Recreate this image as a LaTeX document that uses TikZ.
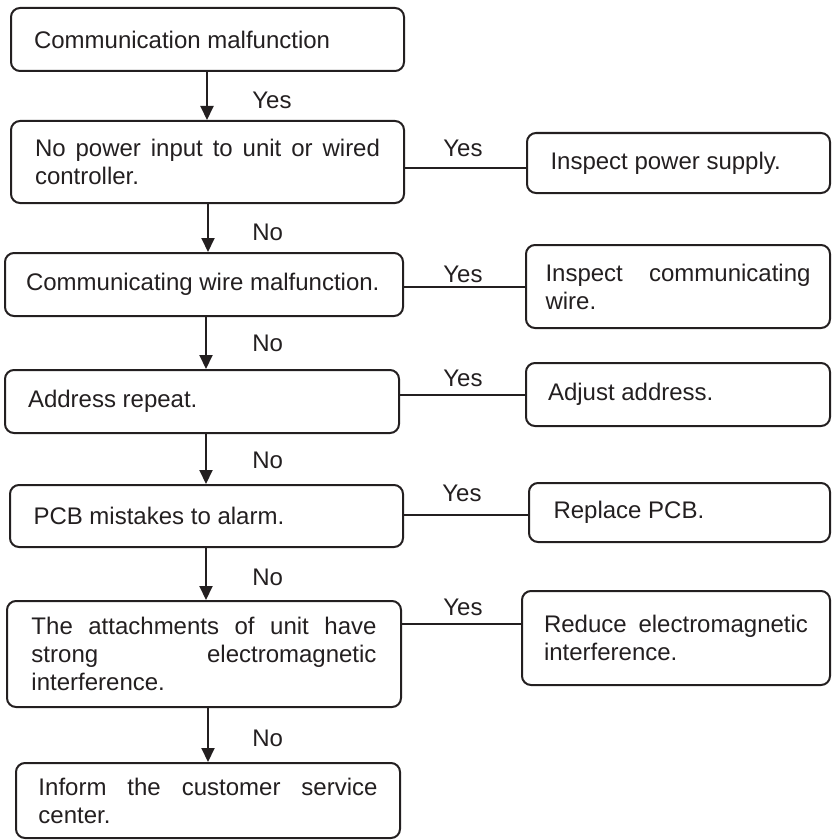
\documentclass[tikz,border=0pt]{standalone}
\usepackage{fontspec}
\setmainfont{Liberation Sans}
\usetikzlibrary{arrows.meta}
\definecolor{ink}{HTML}{231F20}
\begin{document}
\begin{tikzpicture}[x=0.5pt,y=-0.5pt,
  box/.style={draw=ink, text=ink, line width=1pt, rounded corners=4.5pt, inner xsep=0pt, inner ysep=0pt, align=justify, font=\fontsize{12}{14}\selectfont},
  lbl/.style={text=ink, font=\fontsize{12}{14}\selectfont, inner sep=0pt, anchor=west},
  link/.style={draw=ink, line width=1pt},
  flow/.style={link, -{Triangle[length=7pt,width=6.5pt]}}]
\useasboundingbox (0,0) rectangle (832,840);
% main column
\node[box, minimum width=196.5pt, minimum height=31.5pt, text width=173.5pt] (b1) at (207.5,39.5) {Communication malfunction};
\node[box, minimum width=196.5pt, minimum height=41pt, text width=172.5pt] (b2) at (207.5,162) {No power input to unit or wired\linebreak controller.};
\node[box, minimum width=199pt, minimum height=31.5pt, text width=178pt] (b3) at (204,284.5) {Communicating wire malfunction.};
\node[box, minimum width=197pt, minimum height=31.5pt, text width=174pt] (b4) at (202,401.5) {Address repeat.};
\node[box, minimum width=196.5pt, minimum height=31pt, text width=173pt] (b5) at (206.5,516) {PCB mistakes to alarm.};
\node[box, minimum width=197pt, minimum height=53pt, text width=172.5pt] (b6) at (204,654) {The attachments of unit have\linebreak strong electromagnetic\linebreak interference.};
\node[box, minimum width=192pt, minimum height=37.5pt, text width=169.5pt] (b7) at (208,800.5) {Inform the customer service\linebreak center.};
% side column
\node[box, minimum width=151.5pt, minimum height=30pt, text width=128pt] (s1) at (678.5,163) {Inspect power supply.};
\node[box, minimum width=152pt, minimum height=41.5pt, text width=132.5pt] (s2) at (678,286.5) {Inspect communicating\linebreak wire.};
\node[box, minimum width=152pt, minimum height=31.5pt, text width=130pt] (s3) at (678,394.5) {Adjust address.};
\node[box, minimum width=150.5pt, minimum height=29.5pt, text width=126pt] (s4) at (679.5,512.5) {Replace PCB.};
\node[box, minimum width=154pt, minimum height=47pt, text width=132pt] (s5) at (676,638) {Reduce electromagnetic\linebreak interference.};
% vertical flow
\draw[flow] (b1.south -| 207,0) -- (b2.north -| 207,0);
\draw[flow] (b2.south -| 208,0) -- (b3.north -| 208,0);
\draw[flow] (b3.south -| 206,0) -- (b4.north -| 206,0);
\draw[flow] (b4.south -| 206,0) -- (b5.north -| 206,0);
\draw[flow] (b5.south -| 206,0) -- (b6.north -| 206,0);
\draw[flow] (b6.south -| 208,0) -- (b7.north -| 208,0);
% side links
\draw[link] (b2.east |- 0,168) -- (s1.west |- 0,168);
\draw[link] (b3.east |- 0,287) -- (s2.west |- 0,287);
\draw[link] (b4.east |- 0,395) -- (s3.west |- 0,395);
\draw[link] (b5.east |- 0,515) -- (s4.west |- 0,515);
\draw[link] (b6.east |- 0,624) -- (s5.west |- 0,624);
% labels
\node[lbl] (y0) at (252,100) {Yes};
\node[lbl] (n1) at (252,232) {No};
\node[lbl] (n2) at (252,343) {No};
\node[lbl] (n3) at (252,460) {No};
\node[lbl] (n4) at (252,577) {No};
\node[lbl] (n5) at (252,738) {No};
\node[lbl] (y1) at (443,148) {Yes};
\node[lbl] (y2) at (443,274) {Yes};
\node[lbl] (y3) at (443,378) {Yes};
\node[lbl] (y4) at (442,493) {Yes};
\node[lbl] (y5) at (443,607) {Yes};
\end{tikzpicture}
\end{document}
